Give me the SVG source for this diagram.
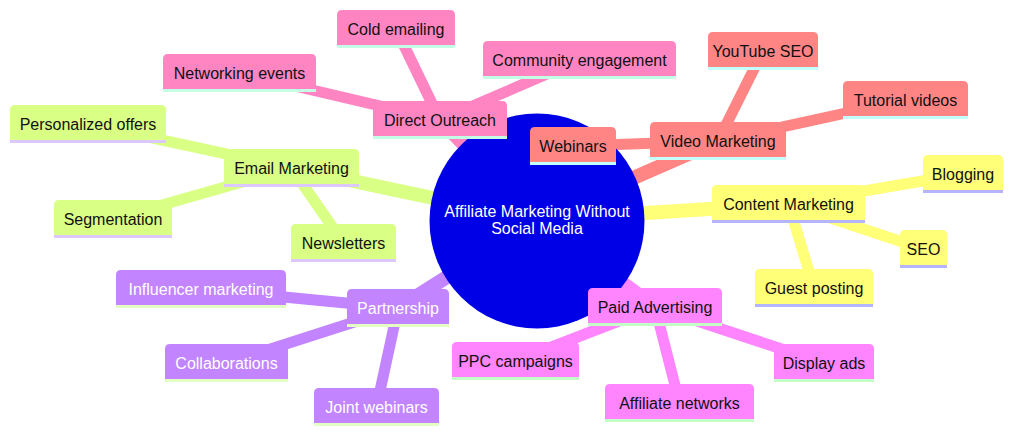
<svg xmlns="http://www.w3.org/2000/svg" width="1013" height="436" viewBox="0 0 1013 436">
<style>
.e{fill:none;stroke-linecap:butt}
.d1{stroke-width:14}
.d2{stroke-width:11}
.s0{stroke:#ff85c2}.s1{stroke:#ff8585}.s2{stroke:#ffff78}.s3{stroke:#ff85ff}.s4{stroke:#c285ff}.s5{stroke:#d9ff85}
.f0{fill:#ff85c2}.f1{fill:#ff8585}.f2{fill:#ffff78}.f3{fill:#ff85ff}.f4{fill:#c285ff}.f5{fill:#d9ff85}
.l0{stroke:#c4ffe5}.l1{stroke:#c4ffff}.l2{stroke:#b4b4ff}.l3{stroke:#c4ffc8}.l4{stroke:#e4ffc4}.l5{stroke:#dcc8ff}
.bl{stroke-width:3;fill:none}
text{font-family:"Liberation Sans",Arial,sans-serif;font-size:16px;text-anchor:middle;fill:#111}
.w{fill:#ffffff}
</style>
<g id="connectors">
<line class="e d1 s0" x1="537" y1="220" x2="440" y2="120"/>
<line class="e d2 s0" x1="440" y1="120" x2="396" y2="29"/>
<line class="e d2 s0" x1="440" y1="120" x2="239.5" y2="73"/>
<line class="e d2 s0" x1="440" y1="120" x2="579.5" y2="60"/>
<line class="e d1 s1" x1="537" y1="220" x2="718" y2="141"/>
<line class="e d2 s1" x1="718" y1="141" x2="573" y2="146"/>
<line class="e d2 s1" x1="718" y1="141" x2="763" y2="51"/>
<line class="e d2 s1" x1="718" y1="141" x2="905.5" y2="100"/>
<line class="e d1 s2" x1="537" y1="220" x2="788.5" y2="204"/>
<line class="e d2 s2" x1="788.5" y1="204" x2="963" y2="174"/>
<line class="e d2 s2" x1="788.5" y1="204" x2="923.5" y2="249"/>
<line class="e d2 s2" x1="788.5" y1="204" x2="814" y2="288"/>
<line class="e d1 s3" x1="537" y1="220" x2="655" y2="307"/>
<line class="e d2 s3" x1="655" y1="307" x2="515.5" y2="361"/>
<line class="e d2 s3" x1="655" y1="307" x2="679.5" y2="403"/>
<line class="e d2 s3" x1="655" y1="307" x2="824" y2="363"/>
<line class="e d1 s4" x1="537" y1="220" x2="398" y2="308"/>
<line class="e d2 s4" x1="398" y1="308" x2="201" y2="289"/>
<line class="e d2 s4" x1="398" y1="308" x2="226.5" y2="363"/>
<line class="e d2 s4" x1="398" y1="308" x2="376.5" y2="407"/>
<line class="e d1 s5" x1="537" y1="220" x2="291.5" y2="168"/>
<line class="e d2 s5" x1="291.5" y1="168" x2="88" y2="124"/>
<line class="e d2 s5" x1="291.5" y1="168" x2="113" y2="219"/>
<line class="e d2 s5" x1="291.5" y1="168" x2="343.5" y2="243"/>
</g>
<g id="root">
<circle cx="537" cy="221" r="107.5" fill="#0000e6"/>
<text class="w" x="537" y="217">Affiliate Marketing Without</text>
<text class="w" x="537" y="234">Social Media</text>
</g>
<g id="direct-outreach"><path class="f0" d="M373,137v-31q0,-5 5,-5h124q5,0 5,5v31z"/><line class="bl l0" x1="373" y1="137.5" x2="507" y2="137.5"/><text x="440" y="126">Direct Outreach</text></g>
<g id="cold-emailing"><path class="f0" d="M337,46v-31q0,-5 5,-5h108q5,0 5,5v31z"/><line class="bl l0" x1="337" y1="46.5" x2="455" y2="46.5"/><text x="396" y="35">Cold emailing</text></g>
<g id="networking-events"><path class="f0" d="M163,90v-31q0,-5 5,-5h143q5,0 5,5v31z"/><line class="bl l0" x1="163" y1="90.5" x2="316" y2="90.5"/><text x="239.5" y="79">Networking events</text></g>
<g id="community-engagement"><path class="f0" d="M483,77v-31q0,-5 5,-5h183q5,0 5,5v31z"/><line class="bl l0" x1="483" y1="77.5" x2="676" y2="77.5"/><text x="579.5" y="66">Community engagement</text></g>
<g id="video-marketing"><path class="f1" d="M650,158v-31q0,-5 5,-5h126q5,0 5,5v31z"/><line class="bl l1" x1="650" y1="158.5" x2="786" y2="158.5"/><text x="718" y="147">Video Marketing</text></g>
<g id="webinars"><path class="f1" d="M530,163v-31q0,-5 5,-5h76q5,0 5,5v31z"/><line class="bl l1" x1="530" y1="163.5" x2="616" y2="163.5"/><text x="573" y="152">Webinars</text></g>
<g id="youtube-seo"><path class="f1" d="M708,68v-31q0,-5 5,-5h100q5,0 5,5v31z"/><line class="bl l1" x1="708" y1="68.5" x2="818" y2="68.5"/><text x="763" y="57">YouTube SEO</text></g>
<g id="tutorial-videos"><path class="f1" d="M843,117v-31q0,-5 5,-5h115q5,0 5,5v31z"/><line class="bl l1" x1="843" y1="117.5" x2="968" y2="117.5"/><text x="905.5" y="106">Tutorial videos</text></g>
<g id="content-marketing"><path class="f2" d="M712,221v-31q0,-5 5,-5h143q5,0 5,5v31z"/><line class="bl l2" x1="712" y1="221.5" x2="865" y2="221.5"/><text x="788.5" y="210">Content Marketing</text></g>
<g id="blogging"><path class="f2" d="M923,191v-31q0,-5 5,-5h70q5,0 5,5v31z"/><line class="bl l2" x1="923" y1="191.5" x2="1003" y2="191.5"/><text x="963" y="180">Blogging</text></g>
<g id="seo"><path class="f2" d="M900,266v-31q0,-5 5,-5h37q5,0 5,5v31z"/><line class="bl l2" x1="900" y1="266.5" x2="947" y2="266.5"/><text x="923.5" y="255">SEO</text></g>
<g id="guest-posting"><path class="f2" d="M755,305v-31q0,-5 5,-5h108q5,0 5,5v31z"/><line class="bl l2" x1="755" y1="305.5" x2="873" y2="305.5"/><text x="814" y="294">Guest posting</text></g>
<g id="paid-advertising"><path class="f3" d="M588,324v-31q0,-5 5,-5h124q5,0 5,5v31z"/><line class="bl l3" x1="588" y1="324.5" x2="722" y2="324.5"/><text x="655" y="313">Paid Advertising</text></g>
<g id="ppc-campaigns"><path class="f3" d="M452,378v-31q0,-5 5,-5h117q5,0 5,5v31z"/><line class="bl l3" x1="452" y1="378.5" x2="579" y2="378.5"/><text x="515.5" y="367">PPC campaigns</text></g>
<g id="affiliate-networks"><path class="f3" d="M605,420v-31q0,-5 5,-5h139q5,0 5,5v31z"/><line class="bl l3" x1="605" y1="420.5" x2="754" y2="420.5"/><text x="679.5" y="409">Affiliate networks</text></g>
<g id="display-ads"><path class="f3" d="M774,380v-31q0,-5 5,-5h90q5,0 5,5v31z"/><line class="bl l3" x1="774" y1="380.5" x2="874" y2="380.5"/><text x="824" y="369">Display ads</text></g>
<g id="partnership"><path class="f4" d="M347,325v-31q0,-5 5,-5h92q5,0 5,5v31z"/><line class="bl l4" x1="347" y1="325.5" x2="449" y2="325.5"/><text class="w" x="398" y="314">Partnership</text></g>
<g id="influencer-marketing"><path class="f4" d="M116,306v-31q0,-5 5,-5h160q5,0 5,5v31z"/><line class="bl l4" x1="116" y1="306.5" x2="286" y2="306.5"/><text class="w" x="201" y="295">Influencer marketing</text></g>
<g id="collaborations"><path class="f4" d="M165,380v-31q0,-5 5,-5h113q5,0 5,5v31z"/><line class="bl l4" x1="165" y1="380.5" x2="288" y2="380.5"/><text class="w" x="226.5" y="369">Collaborations</text></g>
<g id="joint-webinars"><path class="f4" d="M314,424v-31q0,-5 5,-5h115q5,0 5,5v31z"/><line class="bl l4" x1="314" y1="424.5" x2="439" y2="424.5"/><text class="w" x="376.5" y="413">Joint webinars</text></g>
<g id="email-marketing"><path class="f5" d="M224,185v-31q0,-5 5,-5h125q5,0 5,5v31z"/><line class="bl l5" x1="224" y1="185.5" x2="359" y2="185.5"/><text x="291.5" y="174">Email Marketing</text></g>
<g id="personalized-offers"><path class="f5" d="M10,141v-31q0,-5 5,-5h146q5,0 5,5v31z"/><line class="bl l5" x1="10" y1="141.5" x2="166" y2="141.5"/><text x="88" y="130">Personalized offers</text></g>
<g id="segmentation"><path class="f5" d="M54,236v-31q0,-5 5,-5h108q5,0 5,5v31z"/><line class="bl l5" x1="54" y1="236.5" x2="172" y2="236.5"/><text x="113" y="225">Segmentation</text></g>
<g id="newsletters"><path class="f5" d="M291,260v-31q0,-5 5,-5h95q5,0 5,5v31z"/><line class="bl l5" x1="291" y1="260.5" x2="396" y2="260.5"/><text x="343.5" y="249">Newsletters</text></g>
</svg>
